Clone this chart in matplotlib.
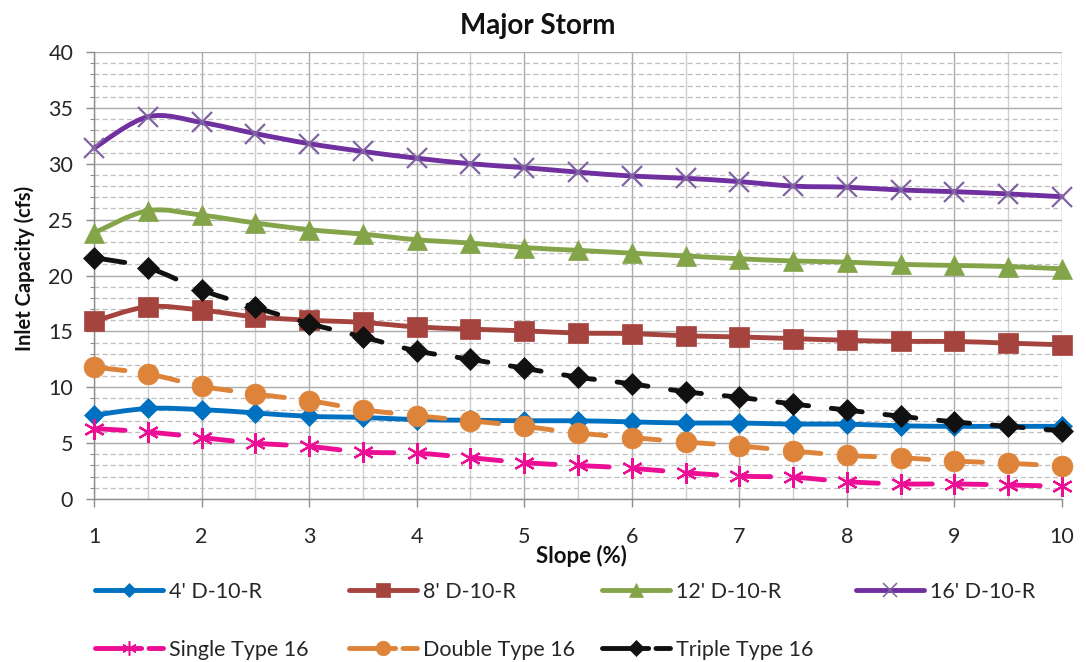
import matplotlib
matplotlib.use("Agg")
import matplotlib.pyplot as plt
from matplotlib.path import Path
from matplotlib.patches import PathPatch
from matplotlib.lines import Line2D
from matplotlib.ticker import MultipleLocator, NullFormatter

plt.rcParams['font.family'] = ['Lato', 'DejaVu Sans']

# ---------------- data ----------------
slope = [1, 1.5, 2, 2.5, 3, 3.5, 4, 4.5, 5, 5.5, 6, 6.5, 7, 7.5, 8, 8.5, 9, 9.5, 10]
d4 = [7.5, 8.1, 8.0, 7.7, 7.4, 7.3, 7.1, 7.05, 7.0, 7.0, 6.9, 6.8, 6.8, 6.7, 6.7, 6.55, 6.5, 6.5, 6.5]
d8 = [15.9, 17.2, 16.9, 16.3, 16.0, 15.8, 15.4, 15.2, 15.05, 14.85, 14.8, 14.6, 14.5, 14.35, 14.2, 14.1, 14.1, 13.95, 13.8]
d12 = [23.8, 25.8, 25.4, 24.7, 24.1, 23.7, 23.2, 22.9, 22.5, 22.25, 22.0, 21.75, 21.5, 21.3, 21.2, 21.0, 20.9, 20.8, 20.6]
d16 = [31.4, 34.2, 33.7, 32.7, 31.8, 31.1, 30.5, 30.0, 29.65, 29.25, 28.9, 28.7, 28.4, 28.0, 27.9, 27.65, 27.5, 27.3, 27.05]
single16 = [6.3, 6.0, 5.5, 5.0, 4.7, 4.2, 4.1, 3.7, 3.25, 3.0, 2.75, 2.35, 2.05, 1.95, 1.55, 1.35, 1.35, 1.25, 1.15]
double16 = [11.8, 11.2, 10.1, 9.4, 8.8, 8.0, 7.45, 7.0, 6.5, 5.9, 5.5, 5.1, 4.75, 4.3, 3.9, 3.7, 3.4, 3.2, 2.95]
triple16 = [21.6, 20.7, 18.7, 17.15, 15.7, 14.5, 13.25, 12.5, 11.7, 10.9, 10.3, 9.6, 9.1, 8.5, 7.96, 7.4, 6.9, 6.5, 6.1]

labels = ["4' D-10-R", "8' D-10-R", "12' D-10-R", "16' D-10-R",
          "Single Type 16", "Double Type 16", "Triple Type 16"]
series = [d4, d8, d12, d16, single16, double16, triple16]

title = "Major Storm"
xlabel = "Slope (%)"
ylabel = "Inlet Capacity (cfs)"

# ---------------- styles ----------------
line_colors = ['#0070C0', '#A5433F', '#84A44A', '#7030A0', '#EC0E94', '#DD843A', '#111111']
marker_colors = ['#0070C0', '#A5433F', '#84A44A', '#8064A2', '#EC0E94', '#DD843A', '#111111']
markers = ['D', 's', '^', 'x', (6, 2, 0), 'o', 'D']
msizes = [10.5, 14, 15, 15, 15, 15, 11]
mews = [0.5, 0.5, 0.5, 1.6, 1.6, 0.5, 0.5]
dashed = [False, False, False, False, True, True, True]
LW = 3.5
DASH = (0, (6.4, 4.7))

W, H = 1086, 662
fig = plt.figure(figsize=(W / 100, H / 100), dpi=100)
ax = fig.add_axes([94 / W, 1 - 499 / H, (1062 - 94) / W, (499 - 52) / H])


def smooth_path(xs, ys):
    n = len(xs)
    verts = [(xs[0], ys[0])]
    codes = [Path.MOVETO]
    for i in range(n - 1):
        i0 = max(i - 1, 0)
        i3 = min(i + 2, n - 1)
        c1 = (xs[i] + (xs[i + 1] - xs[i0]) / 6.0, ys[i] + (ys[i + 1] - ys[i0]) / 6.0)
        c2 = (xs[i + 1] - (xs[i3] - xs[i]) / 6.0, ys[i + 1] - (ys[i3] - ys[i]) / 6.0)
        verts += [c1, c2, (xs[i + 1], ys[i + 1])]
        codes += [Path.CURVE4] * 3
    return Path(verts, codes)


handles = []
for k, (vals, lab) in enumerate(zip(series, labels)):
    ls = DASH if dashed[k] else '-'
    patch = PathPatch(smooth_path(slope, vals), facecolor='none', edgecolor=line_colors[k],
                      lw=LW, linestyle=ls, capstyle='round', joinstyle='round',
                      zorder=3 + 2 * k, clip_on=False)
    ax.add_patch(patch)
    ax.plot(slope, vals, linestyle='none', marker=markers[k], ms=msizes[k],
            mfc=marker_colors[k], mec=marker_colors[k], mew=mews[k],
            zorder=4 + 2 * k, clip_on=False)
    handles.append(Line2D([], [], color=line_colors[k], lw=LW,
                          linestyle=(0, (9.5, 1.5, 3, 10)) if dashed[k] else '-',
                          solid_capstyle='round', dash_capstyle='round',
                          marker=markers[k], ms=msizes[k] * 0.7,
                          mfc=marker_colors[k], mec=marker_colors[k],
                          mew=mews[k] * 0.7 if k in (3, 4) else 0.5))

ax.set_xlim(1, 10)
ax.set_ylim(0, 40)
ax.xaxis.set_major_locator(MultipleLocator(1))
ax.xaxis.set_minor_locator(MultipleLocator(0.5))
ax.yaxis.set_major_locator(MultipleLocator(5))
ax.yaxis.set_minor_locator(MultipleLocator(1))
ax.xaxis.set_minor_formatter(NullFormatter())

ax.grid(which='major', axis='both', color='#ABABAB', lw=1.0, zorder=0)
ax.grid(which='minor', axis='x', color='#CFCFCF', lw=1.0, zorder=0)
ax.grid(which='minor', axis='y', color='#BDBDBD', lw=0.9, linestyle=(0, (4, 2.5)), zorder=0)
ax.set_axisbelow(True)

for s in ['top', 'right']:
    ax.spines[s].set_visible(False)
for s in ['left', 'bottom']:
    ax.spines[s].set_color('#8C8C8C')
    ax.spines[s].set_linewidth(1.0)

ax.tick_params(which='major', direction='out', length=6, width=1.0, color='#8C8C8C',
               labelsize=15.5, labelcolor='#262626')
ax.tick_params(axis='x', which='minor', length=0)
ax.tick_params(axis='y', which='minor', direction='out', length=3, width=0.8, color='#8C8C8C')
ax.tick_params(axis='x', which='major', pad=14)
ax.tick_params(axis='y', which='major', pad=9)

fig.text(538 / W, 1 - 26 / H, title, ha='center', va='center', fontsize=20,
         fontweight='bold', color='#111111')
fig.text(581 / W, 1 - 556 / H, xlabel, ha='center', va='center', fontsize=16,
         fontweight='bold', color='#111111')
fig.text(25 / W, 1 - 268 / H, ylabel, ha='center', va='center', rotation=90,
         fontsize=14.5, fontweight='bold', color='#111111')

fs = 15.5
fs_px = fs * 100 / 72
col_x = [95, 349, 602, 856]
row_y = [592, 650]
positions = [(0, 0), (1, 0), (2, 0), (3, 0), (0, 1), (1, 1), (2, 1)]
for k, (c, r) in enumerate(positions):
    fig.legend([handles[k]], [labels[k]], loc='center left',
               bbox_to_anchor=(col_x[c] / W, 1 - row_y[r] / H),
               frameon=False, borderpad=0, borderaxespad=0,
               handlelength=68 / fs_px, handletextpad=6 / fs_px,
               prop={'size': fs}, labelcolor='#262626', numpoints=1)

fig.savefig('out.png', dpi=100, facecolor='white')
